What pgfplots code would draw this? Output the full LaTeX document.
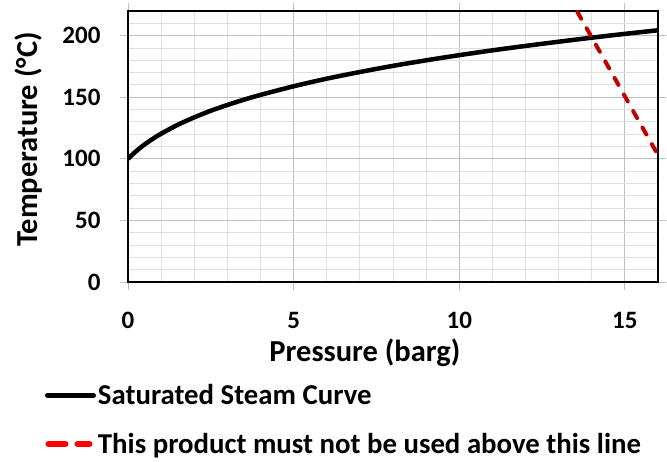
\documentclass[border=0pt]{standalone}
\usepackage{fontspec}
\setmainfont{Carlito}
\usepackage{pgfplots}
\pgfplotsset{compat=1.18}
\definecolor{darkred}{HTML}{C00000}
\definecolor{legred}{HTML}{FF0000}
\begin{document}
\begin{tikzpicture}
\path[use as bounding box] (-128pt,-180pt) rectangle (539pt,282pt);
\begin{axis}[
 at={(0,0)}, anchor=south west,
 scale only axis, width=530pt, height=271pt,
 xmin=0, xmax=16, ymin=0, ymax=220,
 xtick={0,5,10,15}, ytick={0,50,...,200},
 minor xtick={1,...,16}, minor ytick={10,20,...,220},
 grid=both,
 major grid style={color=black!25, line width=0.9pt},
 minor grid style={color=black!12, line width=0.9pt},
 tick align=outside, major tick length=8pt, minor tick length=0pt,
 tick style={color=black!25, line width=0.9pt},
 axis line style={black, line width=1.5pt},
 /pgf/number format/assume math mode=true,
 ticklabel style={font=\fontsize{25}{29}\selectfont\bfseries},
 xticklabel style={yshift=-19pt},
 yticklabel style={xshift=-16pt},
 label style={font=\fontsize{30.5}{34}\selectfont\bfseries},
 xlabel={Pressure (barg)}, ylabel={Temperature (°C)},
 xlabel style={at={(axis description cs:0.447,-0.262)}, anchor=center},
 ylabel style={at={(axis description cs:-0.187,0.526)}, anchor=center},
 legend style={at={(axis description cs:-0.157,-0.366)}, anchor=north west,
   draw=none, fill=none, font=\fontsize{28.8}{32}\selectfont\bfseries,
   row sep=23pt, inner xsep=0pt, inner ysep=1pt},
 legend cell align=left,
]
\addplot[black, line width=4.5pt, smooth,
  legend image code/.code={\draw[black, line width=5pt, line cap=round] (0pt,0pt) -- (46pt,0pt);}]
 coordinates {
 (0,100) (0.237,106.0) (0.487,111.4) (0.737,116.0) (0.987,120.2) (1.487,127.4)
 (1.987,133.5) (2.487,138.9) (2.987,143.6) (3.487,147.9) (3.987,151.8)
 (4.987,158.8) (5.987,165.0) (6.987,170.4) (7.987,175.4) (8.987,179.9)
 (9.987,184.1) (10.987,188.0) (11.987,191.6) (12.987,195.0) (13.987,198.3)
 (14.987,201.4) (15.987,204.3) (16,204.3)
 };
\addlegendentry{Saturated Steam Curve}
\addplot[darkred, line width=4pt, line cap=round, dash pattern=on 8pt off 11pt,
  legend image code/.code={\draw[legred, line width=6pt, line cap=round, dash pattern=on 17pt off 12pt] (1pt,0pt) -- (42pt,0pt);}]
 coordinates { (13.0,246.3) (16,103) };
\addlegendentry{This product must not be used above this line}
\draw[black, line width=2.5pt] (rel axis cs:0,0) -- (rel axis cs:0,1);
\end{axis}
\end{tikzpicture}
\end{document}
